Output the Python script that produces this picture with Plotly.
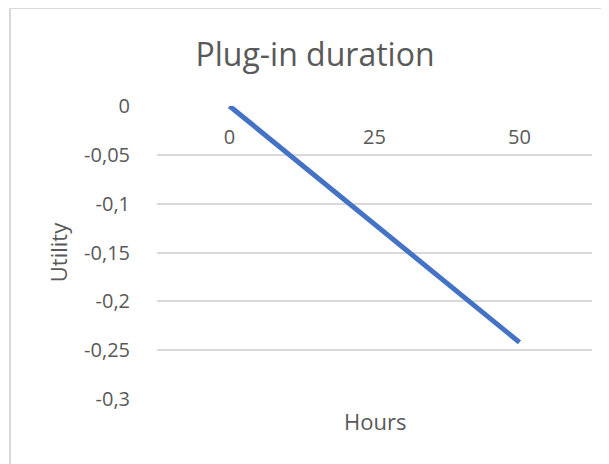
import plotly.graph_objects as go

# data
hours = ['0', '25', '50']
utility = [0, -0.121, -0.242]

y_tick_vals = [0, -0.05, -0.1, -0.15, -0.2, -0.25, -0.3]
y_tick_text = ['0', '-0,05', '-0,1', '-0,15', '-0,2', '-0,25', '-0,3']

# the page body keeps its 8px margin, so the figure is a bit smaller
# and every position below is measured from its own corner
OFF = 8
W, H = 609 - OFF, 464 - OFF
ML, MR, MT, MB = 157 - OFF, 17, 106 - OFF, 65
pw = W - ML - MR
ph = H - MT - MB

text_col = '#595959'
grid_col = '#D9D9D9'
font_name = 'Open Sans'

fig = go.Figure(go.Scatter(x=hours, y=utility, mode='lines',
                           line=dict(color='#4472C4', width=5),
                           hoverinfo='x+y'))

fig.update_layout(
    width=W, height=H,
    margin=dict(l=ML, r=MR, t=MT, b=MB),
    paper_bgcolor='white', plot_bgcolor='white',
    showlegend=False,
    font=dict(family=font_name, color=text_col, size=20),
    title=dict(text='Plug-in duration', x=(315 - OFF) / W, xanchor='center',
               y=1 - (55 - OFF) / H, yanchor='middle',
               font=dict(size=32, color=text_col, family=font_name)),
    xaxis=dict(type='category', range=[-0.5, 2.5],
               anchor='free', position=1, side='bottom',
               showgrid=False, showline=False, zeroline=False, ticks='',
               ticklabelstandoff=17,
               tickfont=dict(size=20, color=text_col)),
    yaxis=dict(range=[-0.3, 0], tickvals=y_tick_vals, ticktext=y_tick_text,
               showgrid=True, gridcolor=grid_col, gridwidth=1.5,
               zeroline=False, showline=False, ticks='',
               ticklabelstandoff=26,
               tickfont=dict(size=20, color=text_col),
               title=dict(text='Utility', standoff=10,
                          font=dict(size=22, color=text_col))),
)

# x axis title sits at the bottom while its tick labels hug the zero line
fig.add_annotation(text='Hours', xref='paper', yref='paper', x=0.5,
                   y=(ph - (421 - OFF - MT)) / ph, xanchor='center', yanchor='middle',
                   showarrow=False, font=dict(size=22, color=text_col))

# chart frame, cut by the window on the right and bottom
fig.add_shape(type='rect', xref='paper', yref='paper',
              x0=(10 - OFF - ML) / pw, x1=(W + 5 - ML) / pw,
              y0=-(MB + 5) / ph, y1=(ph + MT) / ph,
              line=dict(color=grid_col, width=2), layer='below')

fig.write_html('out.html')
